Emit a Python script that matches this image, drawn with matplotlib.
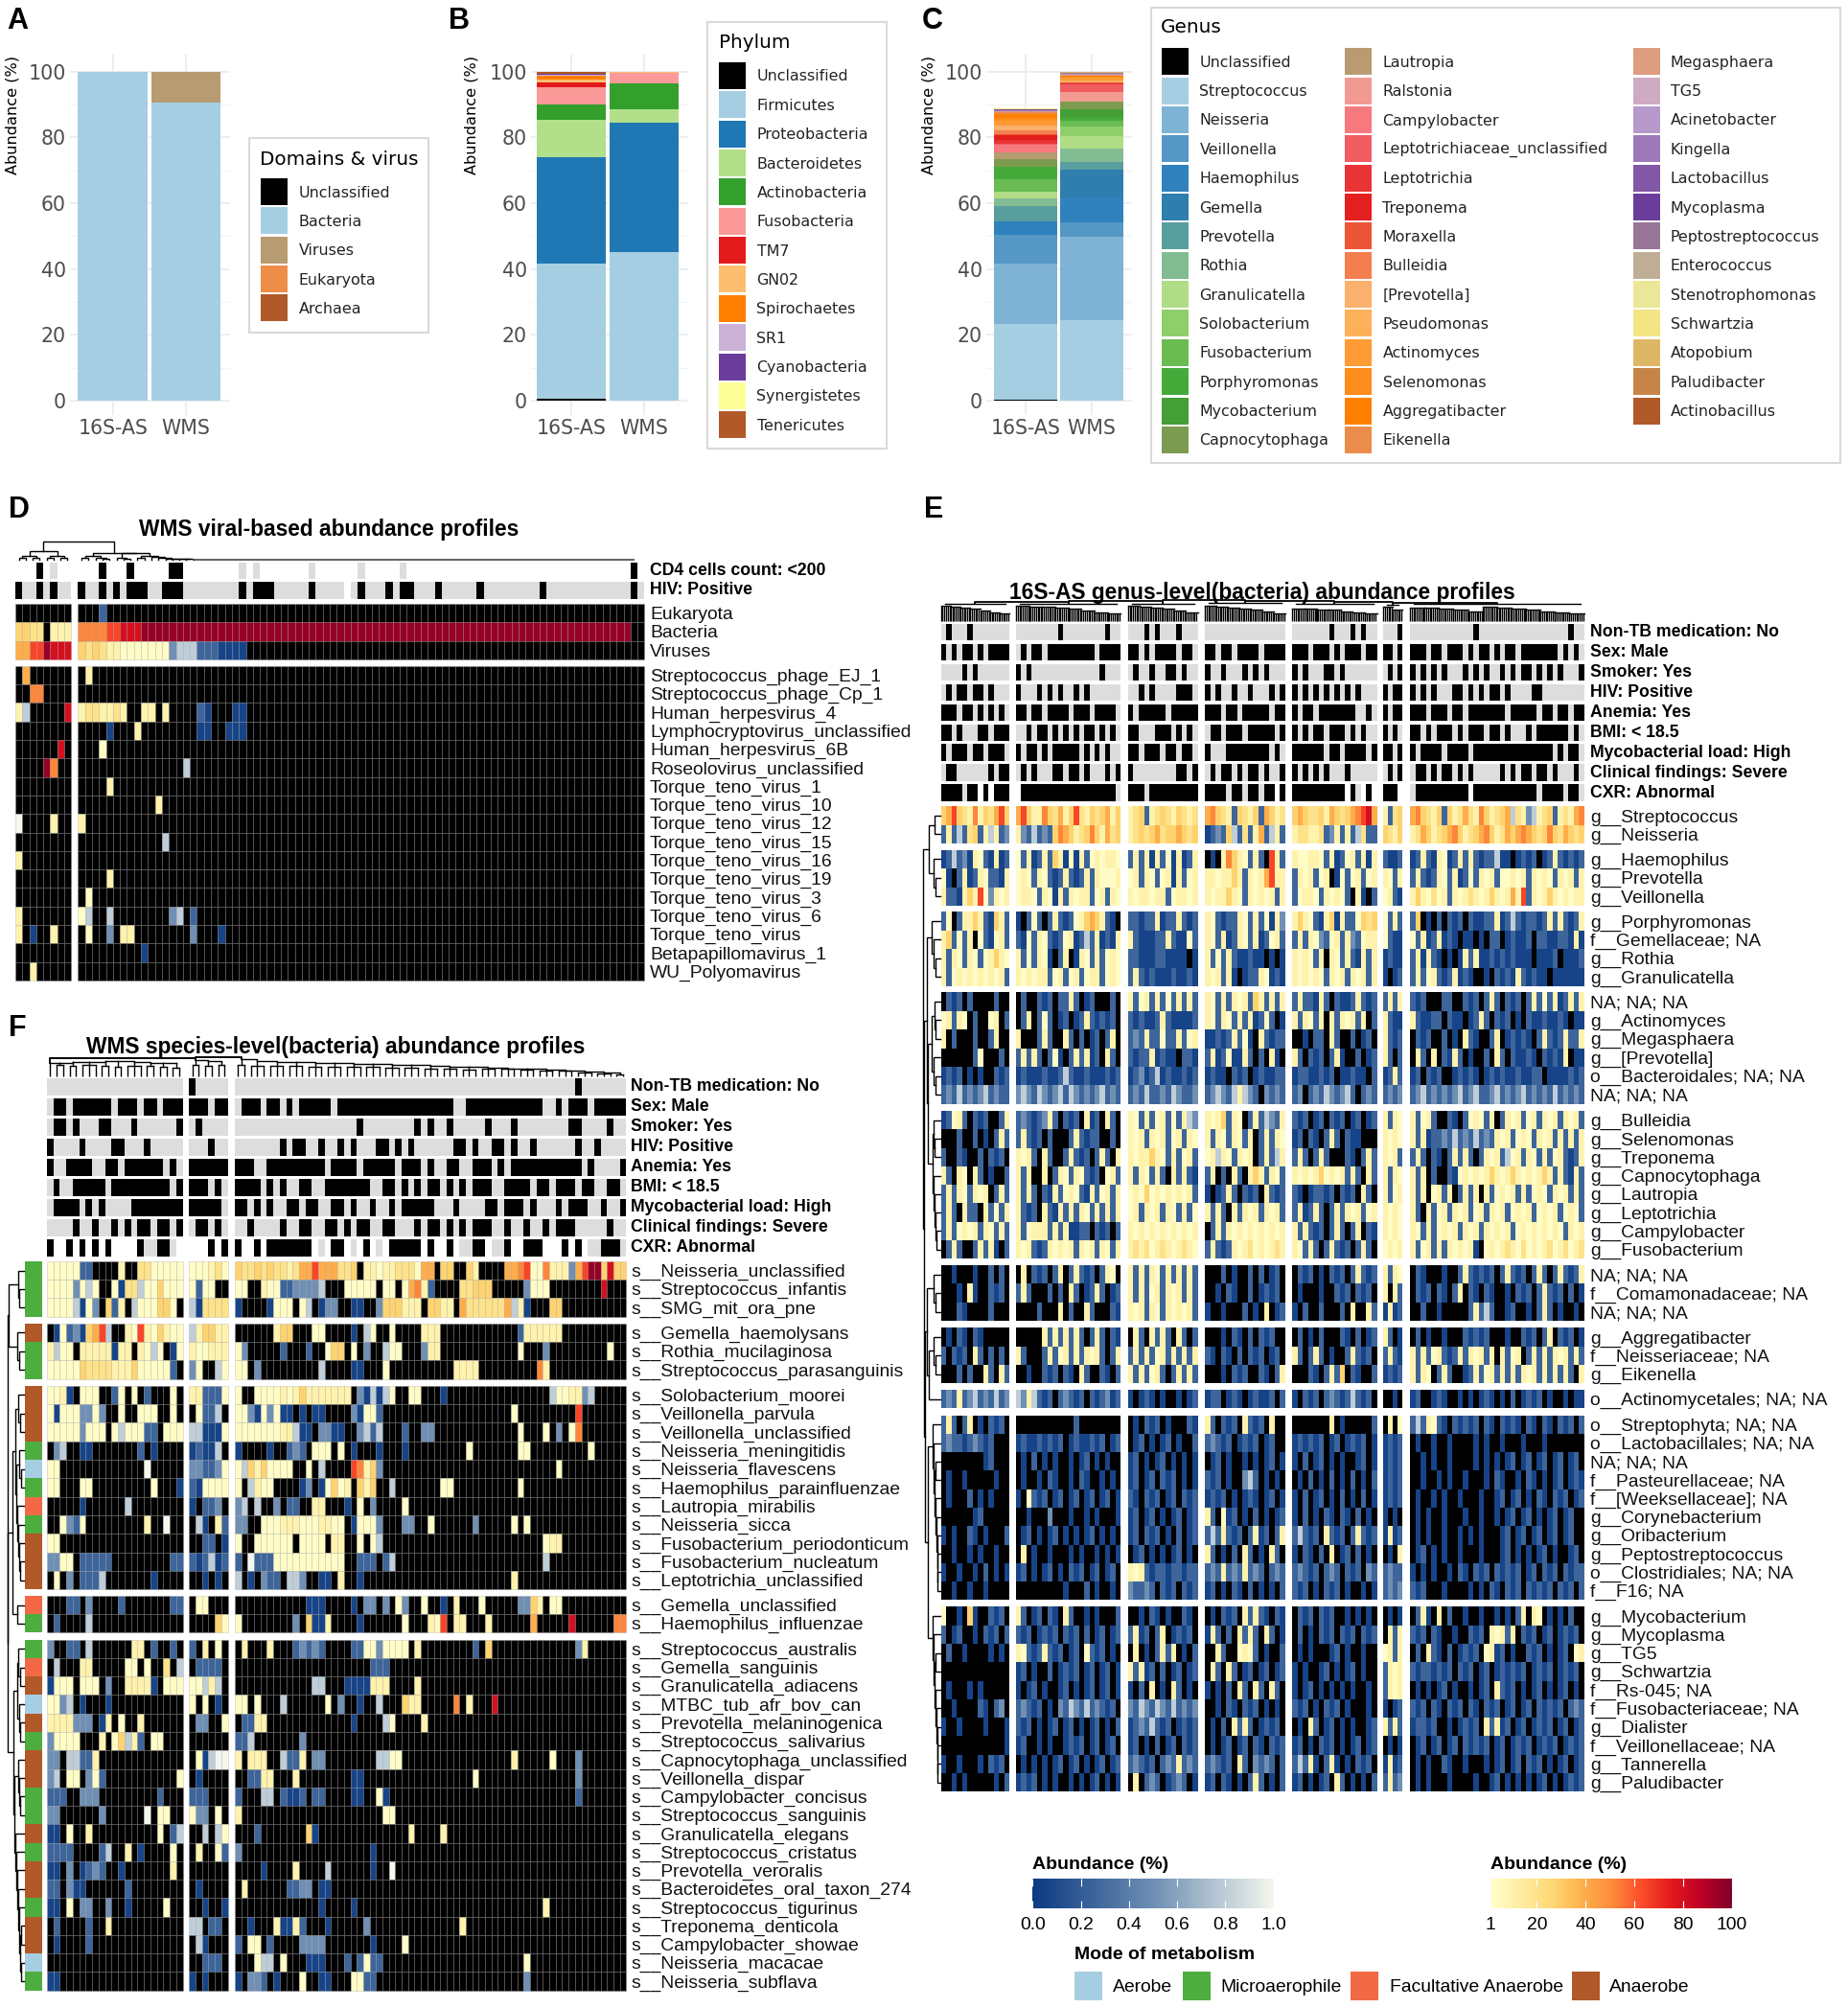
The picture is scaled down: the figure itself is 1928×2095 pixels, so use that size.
import re
import numpy as np
import matplotlib
matplotlib.use('Agg')
import matplotlib.pyplot as plt
from matplotlib.colors import LinearSegmentedColormap, ListedColormap
from matplotlib.patches import Rectangle

W, H = 1928, 2095
HEAT_FONT = 'Liberation Sans'
BAR_FONT = 'DejaVu Sans'

BAR_LABELS = ['16S-AS', 'WMS']

DOMAIN_NAMES = ['Unclassified', 'Bacteria', 'Viruses', 'Eukaryota', 'Archaea']
DOMAIN_COLORS = ['#000000', '#A6CEE3', '#B89B70', '#EE8D47', '#B15928']
DOMAIN_16S = [0, 100, 0, 0, 0]
DOMAIN_WMS = [0, 90.6, 9.4, 0, 0]

PHYLUM_NAMES = ['Unclassified', 'Firmicutes', 'Proteobacteria', 'Bacteroidetes', 'Actinobacteria', 'Fusobacteria', 'TM7',
	'GN02', 'Spirochaetes', 'SR1', 'Cyanobacteria', 'Synergistetes', 'Tenericutes']
PHYLUM_COLORS = ['#000000', '#A6CEE3', '#1F78B4', '#B2DF8A', '#33A02C', '#FB9A99', '#E31A1C',
	'#FDBF6F', '#FF7F00', '#CAB2D6', '#6A3D9A', '#FFFF99', '#B15928']
PHYLUM_16S = [0.5, 41.3, 32.2, 11.4, 4.5, 5.5, 1.3, 0.8, 1.2, 0.5, 0.1, 0.1, 0.6]
PHYLUM_WMS = [0, 45.2, 39.3, 4.2, 7.8, 3.2, 0, 0.3, 0, 0, 0, 0, 0]

GENUS_NAMES = ['Unclassified', 'Streptococcus', 'Neisseria', 'Veillonella', 'Haemophilus', 'Gemella', 'Prevotella',
	'Rothia', 'Granulicatella', 'Solobacterium', 'Fusobacterium', 'Porphyromonas', 'Mycobacterium', 'Capnocytophaga',
	'Lautropia', 'Ralstonia', 'Campylobacter', 'Leptotrichiaceae_unclassified', 'Leptotrichia', 'Treponema', 'Moraxella',
	'Bulleidia', '[Prevotella]', 'Pseudomonas', 'Actinomyces', 'Selenomonas', 'Aggregatibacter', 'Eikenella',
	'Megasphaera', 'TG5', 'Acinetobacter', 'Kingella', 'Lactobacillus', 'Mycoplasma', 'Peptostreptococcus',
	'Enterococcus', 'Stenotrophomonas', 'Schwartzia', 'Atopobium', 'Paludibacter', 'Actinobacillus']
GENUS_COLORS = ['#000000', '#A6CEE3', '#7FB3D5', '#5598C6', '#2F82BE', '#2E7EAE', '#599E9E',
	'#83BB92', '#B0DC86', '#90CE6B', '#6BBB53', '#44AB3B', '#449F37', '#7D9B50',
	'#B89B70', '#F29A92', '#F6797E', '#F05C60', '#E93436', '#E4201F', '#EC5535',
	'#F47F4E', '#FBB06B', '#FDB05A', '#FE9B34', '#FE8C1C', '#FF7F00', '#EA8D4A',
	'#DE9C80', '#CFAAC3', '#B59ACB', '#9E78B8', '#8258A6', '#6A3D9A', '#977597',
	'#BFAD96', '#ECE698', '#F3E484', '#DEB766', '#C68547', '#B15928']
GENUS_16S = [0.3, 22.9, 18.6, 8.6, 3.8, 0.2, 4.8, 2.2, 2.1, 0.1, 3.6, 3.8, 0.1, 2.2, 2.2, 0.1, 2.3, 0.1, 1.4, 1.4, 0.1,
	1.4, 1.2, 0.2, 1.3, 1.1, 0.9, 0.8, 0.1, 0.1, 0.05, 0.2, 0.2, 0.1, 0.05, 0.05, 0.05, 0.1, 0.05, 0.05, 0.05]
GENUS_WMS = [0, 24.6, 25.3, 4.4, 7.6, 8.3, 2.4, 3.9, 3.9, 2.9, 1.8, 0.8, 2.8, 2.1, 0.2, 2.7, 0.1, 2.5, 0.2, 0.1, 0.1,
	0.1, 0.3, 0.2, 1.0, 0.3, 0.2, 0.1, 0.2, 0.1, 0.1, 0.1, 0.05, 0.05, 0.05, 0.05, 0.1, 0.1, 0.05, 0.05, 0.02]

# heat cell levels: '.' is zero (black), a-e sit on the 0-1 blue scale, p-x on the 1-100 warm scale
BLUE_LEVELS = {'a': 0.06, 'b': 0.25, 'c': 0.5, 'd': 0.8, 'e': 1.0}
WARM_LEVELS = {'p': 3, 'q': 10, 'r': 20, 's': 28, 't': 40, 'u': 52, 'v': 65, 'w': 80, 'x': 95}
ANNOT_COLORS = {'k': '#000000', 'g': '#DDDDDD', 'w': '#FFFFFF'}

METABOLISM = ['Aerobe', 'Microaerophile', 'Facultative Anaerobe', 'Anaerobe']
METABOLISM_COLORS = ['#A6CEE3', '#4DAD3F', '#F16A45', '#B15928']

# panel D
D_COLS = [8, 81]
D_ANNOT_LABELS = ['CD4 cells count: <200', 'HIV: Positive']
D_ANNOT = ['3wkwg2w|3wk3wk5w2k8wgwg7wg6wg5wg32wkw',
	'k2gkgk2g|k2gkgkg3k2g3k8gkg3k5gk4gwgk3gkg2k3gk5gk8gk12gkg']
D_TOP_LABELS = ['Eukaryota', 'Bacteria', 'Viruses']
D_TOP = ['|3.b',
	'2s2r.3q|2u2u2v3w70x',
	'2t2vx3w|srsr2q2p5pcddd3b4a']
D_LABELS = ['Streptococcus_phage_EJ_1', 'Streptococcus_phage_Cp_1', 'Human_herpesvirus_4', 'Lymphocryptovirus_unclassified',
	'Human_herpesvirus_6B', 'Roseolovirus_unclassified', 'Torque_teno_virus_1', 'Torque_teno_virus_10', 'Torque_teno_virus_12',
	'Torque_teno_virus_15', 'Torque_teno_virus_16', 'Torque_teno_virus_19', 'Torque_teno_virus_3', 'Torque_teno_virus_6',
	'Torque_teno_virus', 'Betapapillomavirus_1', 'WU_Polyomavirus']
D_ROWS = ['.t|.q',
	'2.2u|',
	'qd5.w|qrrqqrq2.2q.q4.ba3.2a',
	'|4.a3.q8.2a2.3a',
	'6.w|3.p',
	'4.xu|15.d',
	'|4.q',
	'|11.q',
	'e4.q|q',
	'|12.d',
	'q|',
	'|4.q',
	'|.p',
	'q|pd2.d8.cd.b',
	'q.a2.q|.p2.c.2q8.c3.a',
	'|9.a',
	'2.q|']

# panel F
F_COLS = [21, 6, 61]
F_ANNOT_LABELS = ['Non-TB medication: No', 'Sex: Male', 'Smoker: Yes', 'HIV: Positive', 'Anemia: Yes', 'BMI: < 18.5',
	'Mycobacterial load: High', 'Clinical findings: Severe', 'CXR: Abnormal']
F_ANNOT = ['21g|k5g|53gk7g',
	'g2kg6kg3kg2kg3k|3kg2k|g3kg2kgkg5kg18k2g12k2gkg3kg5k',
	'g2kgk3g2k3gk6gk|gk4g|19gk8gkgk2gk5gk3gk8g2k4gk2g',
	'k4gk4g2k3gk5g|3gk2g|7gkg2k2gk2gkgk3g2kgkgk6g2kgk2g2kgk2gk6gk2gk4g',
	'k2g4k2g2kg6kgkg|6k|3k2g9kg4kg5kg3kgk2g2k2g3kgkg11kgk4gk',
	'gk2g5kg9kgk|3kgkg|4kgkgk2g2k2g7k2g2kgkgkg2kgkgkg3k2g4kg2kg3kg2k2g2kg',
	'g4kgkgk4g8k|5kg|2kgkgk2g2kg2k2g2kgk2gk2gkg5k3gk4g2kg3kgk3gkg3k2gk2gk',
	'4gk2gk2gkgkg2kg2kgk|g2kgkg|2gk4gk2g2k2g2kgkg2k2g2k3gkg2kgkgkg3k2gk2gk2gkg3k5gk2g',
	'k2wkwkwkwk4wk2g2kgw|3wkwk|k2wkw7kwgw2kwgwkwgw5kwk2wkw2g2kw2gk2w3k3wkwkw2g3kg']
F_LABELS = ['Neisseria_unclassified', 'Streptococcus_infantis', 'SMG_mit_ora_pne', 'Gemella_haemolysans', 'Rothia_mucilaginosa',
	'Streptococcus_parasanguinis', 'Solobacterium_moorei', 'Veillonella_parvula', 'Veillonella_unclassified',
	'Neisseria_meningitidis', 'Neisseria_flavescens', 'Haemophilus_parainfluenzae', 'Lautropia_mirabilis', 'Neisseria_sicca',
	'Fusobacterium_periodonticum', 'Fusobacterium_nucleatum', 'Leptotrichia_unclassified', 'Gemella_unclassified',
	'Haemophilus_influenzae', 'Streptococcus_australis', 'Gemella_sanguinis', 'Granulicatella_adiacens', 'MTBC_tub_afr_bov_can',
	'Prevotella_melaninogenica', 'Streptococcus_salivarius', 'Capnocytophaga_unclassified', 'Veillonella_dispar',
	'Campylobacter_concisus', 'Streptococcus_sanguinis', 'Granulicatella_elegans', 'Streptococcus_cristatus', 'Prevotella_veroralis',
	'Bacteroidetes_oral_taxon_274', 'Streptococcus_tigurinus', 'Treponema_denticola', 'Campylobacter_showae', 'Neisseria_macacae',
	'Neisseria_subflava']
F_SIDE = [1, 1, 1, 3, 1, 1, 3, 3, 3, 1, 0, 1, 2, 1, 3, 3, 3, 2, 1, 1, 2, 3, 0, 3, 1, 3, 3, 1, 1, 3, 1, 3, 3, 1, 3, 3, 0, 1]
F_ROWS = ['5p2b4.q2.2r5p|3pqrp|srrsrsrrqrttvtttrrs.qqpqqrrrptt.ss..sq4.ttuvppuqqqctvxxswss',
	'4pcpdp2.pa2rd2ps3p|pb2p2.|2p2.q2p2b4cd3.5p.2p.ptuqb4.2r3s5.c3p8.w3.',
	'4pdapc.sbq.d3p2sp|da4r|a4.a3p.pd.a2c2.2a2.c3s3q.2s2q.t6rtdqa3.2s10.',
	'.apbcastvd2.qpvqpsqpp|dq2s2q|6.q2s3.2p4.a.dp2.p4.3q12.b6q9.',
	'qd2p.5qa2q.qpdp.ap|q2p3q|pc5.b3.b2.p2s.p.c2.d2p3.c2q12.p3.c9.p2.',
	'5ps4r3qs5pb.|cp2.dp|2p.c9.d4.2a3.p10.4q9.uq13.',
	'2pqa.3p2.bp.p.b3.p.|2q3bp|p2.4pqpqs7q.cadadp2.2p3.a16.d2p2qcd6.',
	'pa3p2cpc2.p2.3p2.p.|.p2bd.|2pcapcp2a.a.2a4.ca2pb20.p9.v7.',
	'5pc3p.pd3p2b.3p|2d3ap|7p2qd2a.2c2a..cdbd3.b2.2c13.p3.p.c.pu8.',
	'.cd2.2a7.b.a4.|ab2ad.|a4.a2.bcb.3p.p.a3.a3.a9.p7.2p9.p5.',
	'2p13.e5.|2c2bcp|pdsqs4p2.p.d4.vuqsc27.p10.',
	'2p3.2p9.p3.a|ba4p|p.dq2p4.ac.apspq.sqs2.d7.2p10.p16.',
	'5.a6.d8.|a.2bc.|cd.d2.c.2b2.2q3.a.p.c4.p33.',
	'2.pcbp9.q2.e4.|.da.qb|2c2.3p3q3p2q2p.a3pc3.2c2.p6.c5.p.p15.',
	'2p19.|2.2b.a|p2.p5p.4p.2q2.p.pd25.p2q',
	'2c2p.5b9.2b|babdab|b.e3b3p8p2.3b.bd23.d',
	'.p.c.3bd7.a4.|2.a.a.|d.a.c2b.2dc2.2a.q2.a23.q',
	'3.2b.c4.b7.2b|.2p3.|11.3a4.a.2c.c.pc2.p2.a.q3.p5.2csq.2p',
	'.b4.d14.|4.sp|p8.c.s2aq4.a6.p3.qpv.2q3.q6.t5.w6.2u',
	'c2.2b.d6.2q.b2.b.|b.q.p.|.q3.q3.bcbcb4.2b2pc4p.q8.b.s13.cq',
	'.d3.2q5.2p.p2.r.d|.4b.|21.3b',
	'a3p.3p.c2.4qa.3p|2pdqd.|12.2d3.4a3q4.q',
	'2pcd.a3.a11.|p.p.a.|2p.p3.d6.p.c2.a2.d3.s2q5.u.q3.w',
	'4q3c.aq.p2.q6.|.2c2.p|.2b2q13.a4.dp4.q',
	'c4p3.q.psdqb.2p3.||2bd7.c',
	'2c.2d2bq13.|.pad2e|q.3q2.d2bq.2c8.2d2p17.q5.p3.c',
	'cd.2p.cpb11.p.|.a4.|2.2b2q3.q8.2a17.p15.c',
	'3b2.3c9.b3.|3b3.|b3.2d.baab.2b4.2a2.pa29.b',
	'2c6.c6.e.2p2.|p2c.p.|q22.2p',
	'2a.p2.q10.p.bd|2.d.dp|3.b7.sa14.q4.q',
	'4b4.bd2.q.a4.p.|.q2.pb|c20.a',
	'2a.c.abcb2.a7.q.||4.a4.q4.d6.a2.e',
	'2b.c2a6.b8.|.a4.|.q6.2b2c.2a',
	'2a.p.2c2.c2.a5.p2.|2.a2.a|13.a4.a29.q',
	'.b4.b2.q11.|2d.2b.|2.a3.q2aqb3.a5.c14.q',
	'.a4.b14.|.da3.|b.2p.b4.4c7.a4.p',
	'|2.3b.|3.p2d.p3.3a3.b.bp2b22.p',
	'2a19.|a.a3.|a.2cb.a3.p2.2a3.2p2b23.c']

# panel E, columns are read at a coarser step than the original strips
E_COLS = [13, 20, 13, 15, 16, 4, 33]
E_ANNOT_LABELS = F_ANNOT_LABELS
E_ANNOT = ['gk3gk7g|8gk8gk2g|3gkgk3gk3g|15g|7gk3gkgk2g|3gk|12gk17gk2g',
	'kgkgkkgkgkkkk|gkgkkgkkkkkkkkkgkkkk|kkgkgkkkkgkkg|kkgkkgkkkkgkkkk|kkkgkkkgkgkkkgkk|kkgk|kkkgkkgkkkgkgkkgkgkkgkkkkkkkgkgkg',
	'ggggkgkgggggg|kgkgggggggggggggkggg|gkggkggkkgkgg|kggkgggkgkgkggg|kgkgggkkgkgggggg|gkgk|kgkgkgkgggkgkgkggkgkgkkgkgkgkgggk',
	'gkgkkgkkgkggg|kgggkgkgkggkgkgggggg|ggkgkggggkkkg|kgkggkggkgggkgk|kgkgkgkgkgkgkggg|kgkk|kgkgkgggkkgkgkgkkgkggggkkgggggggg',
	'kkkgkkgkgkgkg|kkgkkgkkkkgkkkgkkkkg|kgkkkkkgkkkkk|kkkgkkgkkkkkgkk|kgkkgkkkkkkkggkg|kgkk|kkkgkkkgkkgkkkkkkkgkkkkkgkkgkkgkk',
	'kkgkgggkkgkkk|ggkgkkgkgkgkgkkgkgkg|kkgggkkkgkgkg|gkkgkkkgkkkkkgk|kgkgkkgkkkgkgkgg|kgkg|kkgkgkkkgkgkkkgkkgkgggkgkkkkkkgkg',
	'kgkkkgkkgkkkg|kgkkgkgkkkkkgkgkgkgg|kkgkkkgkkgkkg|kgggkkkkkkkkgkg|kkkkkkgkkgkkkkgk|kkgk|kgkkkkgkkkkgkkkkkkkkkkkkkkkgkgkkg',
	'gkkggggggkgkk|gkgkgggkkgkkgkgggkgk|kggggggggkkgk|gkgkkgkgkkgkggk|kgkgkgkgggkggggg|gkgk|gkkgkgkkgkgkgggggkgkgkkgkkgkgggkg',
	'kkkkgkkwkwkkk|wkkkkkkkkkkkkkkkkkkg|kkkgkkkkkkkkk|kkkkgkkgkkgkkwk|kkkkkkkkkkwkgwkw|kkkw|gkkkkkkkkkkwkkkkkkkkkkkkgkkkkgkkg']
E_LABELS = ['g__Streptococcus', 'g__Neisseria', 'g__Haemophilus', 'g__Prevotella', 'g__Veillonella', 'g__Porphyromonas',
	'f__Gemellaceae; NA', 'g__Rothia', 'g__Granulicatella', 'NA; NA; NA', 'g__Actinomyces', 'g__Megasphaera', 'g__[Prevotella]',
	'o__Bacteroidales; NA; NA', 'NA; NA; NA', 'g__Bulleidia', 'g__Selenomonas', 'g__Treponema', 'g__Capnocytophaga', 'g__Lautropia',
	'g__Leptotrichia', 'g__Campylobacter', 'g__Fusobacterium', 'NA; NA; NA', 'f__Comamonadaceae; NA', 'NA; NA; NA',
	'g__Aggregatibacter', 'f__Neisseriaceae; NA', 'g__Eikenella', 'o__Actinomycetales; NA; NA', 'o__Streptophyta; NA; NA',
	'o__Lactobacillales; NA; NA', 'NA; NA; NA', 'f__Pasteurellaceae; NA', 'f__[Weeksellaceae]; NA', 'g__Corynebacterium',
	'g__Oribacterium', 'g__Peptostreptococcus', 'o__Clostridiales; NA; NA', 'f__F16; NA', 'g__Mycobacterium', 'g__Mycoplasma',
	'g__TG5', 'g__Schwartzia', 'f__Rs-045; NA', 'f__Fusobacteriaceae; NA', 'g__Dialister', 'f__Veillonellaceae; NA',
	'g__Tannerella', 'g__Paludibacter']
E_ROWS = ['stvsrquqsrtvs|tvsqqusrtqsvrqsrstqs|qrsbqrsrqsrqr|tusrqbsrqsbtsqr|stsrrsqtsrstuvwt|qbrs|tusrqsbsqrtrqusqrstdrqcdqrsbqrq',
	'bqbdbrsbqdqbc|qcbdbcbsutsqrsusqtrs|qrsrstrsstsrs|abcbsdbrbqtbdqb|qrrqqrbcqbqbdrbb|srqs|qrtsqrstusqrstusqrtstutsrsusrtsrs',
	'abdbcaqpbaqab|pbqabqbsqapaqbpqpqqp|bqbqaqbpaqabq|.a.qusqpbqb.vqb|qppqqpbqabpqbqaq|baab|abqbaqpabqbqbabbdaa.abab.abqbabab',
	'pa.bqabqpbbaq|pqpbqpbabqbabqbqpp|pqbqpbpqaqbpq|qqpqqsqbqpqtvqq|bqpqbpq.apbpqbpq|qpbq|bqbabqpbqabpbqpqbppqpqbqpqpbqpqbq',
	'qbbaqsqvpcqpq|pqqpbqpaqbqpqqbpqbqp|qpqqpqqbpqqpq|qpqqsqpbqpqpqbq|bpqqpbqpqpb.qa.|pqba|qsqprpqbqpqrqpqsqpqtqvbqpqsqpqpqq',
	'bp.bqqsqbasqb|a.bpb.bqbabpqstsqb|bbabbqabbqbab|qpbabbqpbqbpaqc|qsqpbaqsaqbbpsrs|pbqb|bs.a.b.bab.baabbqabdbabbabqbqbabq',
	'qsbpbq.pbapqb|bapbqpbabpqabdbqabaq|qbaaabbqbaapb|qpbqabqpbqabpqb|bqbqpcbpqbqcbpqq|pbaa|pbqabqaba.aa.a.bb.abaab.bbaabbaqa',
	'qbqpbqpbpqsqp|qbpbqpa.bq.aqpbqbpqp|bbaaabbaaaa.a|qbpbqbaabaa.a.a|qpqpbq.qpbqbaqbq|abaa|bqaqba.a.aqbqaabababaaa.aaab.aaab',
	'qbpqpqpqpqpqb|qpqpqqbpqbpqbpqqbpqp|bqbabaaabaaba|qpqbqa.abbqpaba|qpqpqpbqpqbqpqbq|a.ab|bqbpqbabqaba..a.babaqbabaa.aaaaaa',
	'.bab.b....b..|.b..bab.bbqb.ab...b.|qbpqbqbpbqbqb|qpbqbqpqbsqbqbq|bqbbaqb.baabqbab|bqbq|bab...bb..bab.bqb.bab.bqbpbqabqbq',
	'pqbqp.b..pq.b|.bq.bpb.ab.abqbabab.|babaabqbaaaab|qpbqpbqbqabpb.a|qbqpbq.qbqpqbq.b|qbaa|qbaabb.baa.abqb.bab.a.baabaaba.aa',
	'q.b...b..bq..|q...bqb..qb.b.ab.bq.|bcbqbbpbbqbpq|aababqbpa.qbabb|..a.bb.qb..b.ab.|qbab|.bab..b.a.qba..bq.ababa.bqbabqbbq',
	'......bp...b.|bqbqb.bpa.bqbqab.qb.|babbqabaa.bba|bqabpaaqb.b.qa.|qb.bab.bqa..b.ab|qb.b|.qb.q.baqb.a..b.qb.baaba.babaq.aa',
	'abab.a.a..bab|abaaabaabdbaabaaabab|abcabdabaabab|abaa.bab.abaabb|abbaabab.aabaa.b|abqb|ab.bab..ababa.ababaabaabb.aaaabab',
	'bcbdbcbcdbcbb|cdcbdcbcdbdcbcbcdbcb|bcbdbbcbdcbbc|bcdcbdqdcb.cbcb|bc.bcbdcbcdb.bcb|bcbc|bcdbcbcbcdbcdbbcdbcbcdbcbcbdbcbcb',
	'abpqb.bab..bq|bcbabcqb.bab.qab.qb.|qpbqbpqbpbqdc|qpqsbqp.bqbdcbq|bab.ab.bab.ab.ab|qbqp|qbpqb..ba.bpqpbq.bqpqbpqbqpqbqpqb',
	'...b..b.a.bqb|bqbab.b...bqbabb..b.|qpqbqpqbpqbqp|qbqpbqpbq.bqbqp|ab.ba.bqb.baa...|qpqp|qbqabbcbdbcbdbcbqpqbpqpbqpqbqbqbq',
	'b..ba..b.bab.|qpqb.qb..bqbab.bqb.q|qpqqsqpbqbpqb|pqdqpbqpq.bqbdq|bqb.bqb...ba.bqb|qpqb|bqb.ba.bqbqb.bqpqbdpqbqpbqbpqbabq',
	'qb.qp.qb.a..b|qbq..q.bqpbqpbab.pqb|qbqpbqb.qbqba|bq.b.qb.qsqbqpb|qpqpqspqpqbqb.qb|qbqp|qbq.b..bapqpqpqsqpqsqpqpqsqbqba',
	'bqbqpbqpq.bqb|qbqb.baqbpqpbaqbpqbq|pqpspqpqpqpqb|a.abqb.bab.qbab|ba.abbab.bab.qb.|qbpq|qbq.pqbq.bqbq.qbpqpqbqbpqpbqpqbqb',
	'bqb.qbb.qbpbq|qbab.qbaqbqbqpbqbqbq|pqbqpqbqpbqbp|qbqb.qbqpqbqpqb|bqabqb.bqbqpqbpq|qpqp|qb.qbpqbqpqbpqbqpqbpqpqbpqpqbpqpb',
	'bqbpqpqbqpbqb|qbpqqqbqbqaabb.bab.b|qpqpqpqpqpqpq|.bqbqpqpqpqpqpq|qbqbab.bqb.bq.ba|qpqp|qpbqbpqpqbqpqbqpqpqbpqpqpqpqpbqpq',
	'.bqb..bqbqa.b|qpqbabqpqpqbqpqbqpbq|qrqrpqrqpqrqp|bqbabqpqrpqpqrq|qpbqb.bqbab.bqb.|pqpq|qbpqbqbqpqpqa.pqpqrqprpqpqrpqrpqr',
	'..a...a..b.b.|.q.bab.bq.bqbab.bqp.|qbqbqpbqbqbqb|...b.a..b.b.ab.|.bab.a.bab.bqbab|qbqp|.ba...a..bqbabab.bqbab.bqb.bqbabq',
	'...a.qa..bab.|bqb...b.b.qb.abqb.ab|qbqbpqbqpqbqb|..a.ba..b.abab.|.a...a..bab.bab.|q.qb|.bab.ba.bq.ba.ba..a.bab.bqbab.b.a',
	'...ba....b...|....b...q.b..qb...ba|qpqbqpbqpqpqb|a..a...b.a.q.ab|a.b..b...b.q..qb|aqab|..b..a.....bqbdb..ab..a.bqb.a..a.',
	'.a.ba.ba.....|.....qbqbqbqb.bqb.ba|.qb.qbqb.qb.b|...a.ba.b.bab..|.b.a.b...ba.b.ab|qb.a|.b.a..a...babab...a..bab.bq.bab.a',
	'b.bab.qb.b.b.|qb...bqbpqbqbqpqb.bq|bqbqbpqbqbqbq|ba.ba.b.bab.ab.|qb.bqb.a..bqbab.|bqba|qbqbpqbabqbqpqbq.qbpq.bqbqbqpqbqb',
	'...b.b..qb.qb|..a..bab.ba.qb..ba.b|qbqbpqb.bqbqb|...a.bab..ba.bq|...ba.bqbs.ba..b|abab|qbqp.bqb..abqbpqbqbqbqpqbqbqbqb.q',
	'bcbqbcdbcbdbc|dcqdbab.bcbab.babcab|a.aba.a..a.ab|abb.aba.abaab.b|a.bab.bcbabdbab.|..a.|ab..aba..a.a.aba.a.b.abab.a..a.a',
	'bqb.bq.a.bab.|...........b........|.a.bab.a...ba|qb.bab.qbab.q..|.......q.a.....b|.q.p|bdbqpba.babab.ba.baba.ba.ba.bab.b',
	'bcbbabcbab...|abaababab.abaabab.ab|.ab.a.ab.a..b|bcbab.abab.ab..|ababab.ab.abab.a|abab|.a..a..a....a.a..a...a...a.......',
	'........ab...|.a.b.a.a..a.ab.a.a..|ab.a.ab.a.a.a|.ab.a..a.a.ab.a|a.b.ab.a.a..ab.a|abab|..a.a..a....a.a.a.ab.ab.ab.ab.ab.',
	'.a..a.....a..|.a..a.ba..a.ba..a.a.|ab.ab.bab.a.a|bab.a..cdb.a.a.|.a.b.a.b.a.b.a.b|abab|..a..a.a..a...a.ba..a.ba.a.ab.aba',
	'.a...b.a.a...|a.pbab.ab.ab.ab.ab.a|ba.bab.ab.bab|abab.a.aba.ab.a|a.b.ab.a.b.a.b.a|abab|.a..a.a..a...a..ab.ab.a.ba.bab.ab',
	'......ab.....|..a...c...a..a.a...a|ab.ab.a.ab.ab|qb.pab.a.b.a.ab|a.b.a.ba.ba.b.a.|a.a.|.a.a..a...a..a..a.ab.ab.a.ab.ab.',
	'a.a..ba.a...b|.ab.a.ab.a.a.ab.a.a.|ab.bab.a.b.ab|bdbqbab.bqab.bq|bdbab.qbab.bqbab|aqab|.a.a..a..a.a.a...ab.ab.ab.ab.ab.',
	'..a..a.a..a..|.q.a..a...a.a..a.a.a|.ab.a.a.ab.a.|qb.a.b.qb.a.qb.|a.ba.b.q.ab.b.a.|.a.q|.ab.a.a..a...a...ab.a.a.ab.a..ab.',
	'a..a..a.b.a.a|ab.a.ab.a.bab.ab.ab.|qpqbabbabbabb|bcbqbcbqbcb.bcb|bcbab.bcb.bab.cb|bcbb|a.a.a..a.ba.bab.babab.ab.bab.babb',
	'..a..a..a....|.........a...b.a..a.|cbbcb.bab.bab|ab.a.ba.b.a.a.b|bab.a.bab.a..a.a|bcbc|bab...a....a.a.ba.bab.babab.bab.b',
	'p..a.sa..bab.|qb.ab.ba.qb..a.a...b|..a.ba.a..ba.|.a.bab.qbqba.ba|.bab.bab..a.a.a.|.a.a|.bqa.q.b..a..a..a.a.bq.qp.a.a.b.',
	'b.ab..a.bab.b|bab.abab.bab.b.ab.ab|bqab.bq.abab.|aqb.b.qbqb.qb.a|.b.a.bab.bab.bab|.qbq|bab.ba..a..bab.qpqbq.bab.ab.abab.',
	'.b..a....a.a.|qpbabqbab.ab.pbab.a.|.q.a.bqbq.a.b|..qb..pqpb.a..b|.a.a...ab.a..a..|pqbq|.b.qba.b.abab.pqab.a..bab.a.ab.pq',
	'.............|ab.a..b.abab.ab.ab.a|qbqab.b.ab.ab|.qb.qb.ab.ab.ab|a.a..ab.a.ab.a..|bqpq|babbabab.bab.ab.ababab.abab.abab.',
	'.a...a.a.....|a.ab.a..ab.a.ab.ab.a|a.b.q.a.qb.a.|a.a.b.qb.qb.qb.|a.ab.a.a.a.a..a.|bqpq|.a.a.ab.a..a.ab.qbab.a.ab.a.ab.a.',
	'..a....ba.bc.|bcbab.a.cbdcbdbcbab.|cbdcbdcbdbcbc|..a.ba.bab.a.a.|bab.a.bab.a...a.|a.ab|bab.ba.bab.ba.bab.ab.ab.babab.bcb',
	'a..a....a...a|bab.a.ab.ab.a.ab.a.b|abcbdbab.abab|.a.b.qbqb.abab.|.a.qb.ab.a.a..ab|qbqb|abbab..a.abab.qbqab.ab.abab.ab.ab',
	'............a|ab..a.a..abab.ab.ab.|ab.a.b.ab.bab|.a.ab.ab.ba.bab|ab.a.bab.a.ab.ab|.a.a|.ab.ab.ab.babab.ab.abab.abab.abab',
	'a..a...a.bab.|.a.a.a.ab.ab.a.ab.ab|bcbab.bcbqbcb|bcbab.qb.cbcb.b|bdbqa.bqa.a.bab.|aqab|.a.a..ba..a...a.ab.ab.bab.a.ab.ab',
	'..a.a.....a.b|abab.a.a..a.a.ab.a.a|.q.bcb.abcb.a|ab.ba.a.bqb.a.b|ab.a.ab.qb.a.a.b|bqbc|.a.a...a....a..ab.a.a.a.ab.a.abab']

# dendrograms as nested (height, child, child), leaves are column or row numbers
D_TOP_TREE = (19.3,
	(9, (4.5, (2, 0, 1), (2, 2, 3)), (4.5, (2, 4, 5), (2, 6, 7))),
	(7.7, (4, (2, 8, 9), (2.5, 10, (1.5, 11, 12))),
		(7, (2.5, 13, (1.5, 14, 15)), (4, (2, 16, 17), (3, 18, (2, 19, (1.5, 20, (1.2, 21, (1, 22, (0.9, 23, 24))))))))))
F_LEFT_TREE = (17, (16, (6, 0, (5, 1, 2)), (7, 3, (5, 4, 5))),
	(16.5, (12, (9, (6, 6, (4, 7, 8)), (8, (5, 9, (3, 10, 11)), (7, 12, (6, 13, (5, 14, (4, 15, 16)))))), (7, 17, 18)),
		(11, (7, (6, 19, (4, 20, 21)), (5, 22, (4, 23, 24))),
			(10, (6, 25, (5, 26, (4, 27, 28))), (9, 29, (8, 30, (7, 31, (6, 32, (5, 33, (4, (3, 34, 35), (3, 36, 37)))))))))))
E_LEFT_TREE = (18, (12, (6, 0, 1), (7, 2, (5, 3, 4))),
	(17, (14, (9, 5, (7, 6, (5, 7, 8))), (13, (9, (6, 9, (5, 10, 11)), (7, 12, (5, 13, 14))),
			(8, (7, 15, (6, 16, 17)), (7, 18, (6, 19, (5, 20, (4, 21, 22))))))),
		(16, (14, (7, 23, (5, 24, 25)), (12, (7, 26, (5, 27, 28)), 29)),
			(13, (8, 30, (7, 31, (6, (5, 32, 33), (5, 34, (4, 35, (3, 36, (3, 37, (3, 38, 39)))))))),
				(8, 40, (7, 41, (6, (5, 42, 43), (5, 44, (4, 45, (3.5, 46, (3, 47, (3, 48, 49))))))))))))

# top dendrogram brackets per group: leaves in the bracket, cap height, spine height
F_BRACKETS = [[(1, 11, 14), (2, 12, 14), (2, 11, 15), (3, 12, 15), (2, 11, 16), (2, 10, 16), (3, 11, 15), (2, 11, 14), (2, 10, 14), (2, 9, 14)],
	[(2, 12, 17), (2, 11, 16), (2, 12, 15)],
	[(2, 12, 18), (3, 11, 16), (3, 11, 15), (3, 11, 15), (3, 10, 14), (3, 10, 14), (3, 10, 13), (3, 10, 13), (3, 9, 12),
		(3, 9, 12), (3, 8, 11), (3, 8, 10), (3, 7, 10), (3, 8, 9), (3, 8, 8), (3, 7, 8), (3, 6, 7), (3, 6, 6), (3, 4, 5), (3, 3, 4), (2, 2, 3)]]
F_TRUNK_HEIGHTS = [19, 20]
E_CAPS = [[16, 15, 14, 13, 11, 9, 8], [16, 15, 15, 14, 13, 11, 9, 8], [16, 15, 14, 13, 11, 9],
	[16, 15, 14, 13, 12, 10, 8], [13, 13, 12, 12, 10, 9, 8], [15, 12], [14, 14, 13, 12, 10, 15, 14, 13, 12, 10, 9, 8]]
E_SPINES = [18, 18, 18, 19, 18, 17, 18]
E_TRUNK_HEIGHTS = [20, 21, 22, 21, 20, 19]

# pixel layout of each panel
D_X = [(16, 74), (81.4, 672.4)]
D_BLOCKS = [(629.9, 688, 3), (694.8, 1023, 17)]
F_X = [(49, 190.5), (197.2, 237.6), (245, 653.4)]
E_X = [(981.6, 1053.2), (1060, 1169.3), (1176.7, 1249.5), (1257, 1340.9), (1348.3, 1436.5), (1443.3, 1463), (1471, 1652.6)]
F_BLOCKS = [(1316, 1373.7, 3), (1380.7, 1438.7, 3), (1445.7, 1658.3, 11), (1665.3, 1703.3, 2), (1710.7, 2076.7, 19)]
E_BLOCKS = [(841.3, 880, 2), (886.7, 945, 3), (951.3, 1029, 4), (1035.3, 1151.7, 6), (1159, 1313.3, 8),
	(1320, 1378.3, 3), (1385.3, 1443.3, 3), (1450.3, 1469.3, 1), (1476.7, 1669.3, 10), (1676.3, 1869.3, 10)]

BLUE_CMAP = LinearSegmentedColormap.from_list('blue', ['#0B3A82', '#6E8FB4', '#F4F7EE'])
WARM_CMAP = LinearSegmentedColormap.from_list('warm', ['#FFFFCC', '#FFEDA0', '#FED976', '#FEB24C', '#FD8D3C', '#FC4E2A', '#E31A1C', '#BD0026', '#800026'])

LEVEL_CODES = '.' + ''.join(BLUE_LEVELS) + ''.join(WARM_LEVELS)
LEVEL_COLORS = ['#000000'] + [BLUE_CMAP(v) for v in BLUE_LEVELS.values()] + [WARM_CMAP((v - 1) / 99.0) for v in WARM_LEVELS.values()]
LABEL_SIZE = 13.9
BOLD_SIZE = 12.7
TITLE_SIZE = 16.4
HEADING_SIZE = 14
LABEL_DROP = 2
GRID_EDGE = (0.55, 0.55, 0.55, 0.35)


def expand(text, width, fill, cycle=False):
	out = ''.join(ch * int(n or 1) for n, ch in re.findall(r'(\d*)(\D)', text))
	if cycle and out:
		out = out * (width // len(out) + 1)
	return (out + fill * width)[:width]


def group_cells(rows, widths, fill, cycle=False):
	# one list of equal length strings per column group
	groups = [[] for w in widths]
	for row in rows:
		parts = row.split('|') + [''] * len(widths)
		for k, w in enumerate(widths):
			groups[k].append(expand(parts[k], w, fill, cycle))
	return groups


def draw_cells(ax, x0, x1, y0, y1, lines, codes, colors, edge=None):
	grid = np.array([[codes.index(c) for c in line] for line in lines])
	xe = np.linspace(x0, x1, grid.shape[1] + 1)
	ye = np.linspace(y0, y1, grid.shape[0] + 1)
	ax.pcolormesh(xe, ye, grid, cmap=ListedColormap(colors), vmin=0, vmax=len(colors) - 1,
		edgecolors=edge if edge else 'none', linewidth=0.5 if edge else 0, antialiased=bool(edge))


def draw_heat(ax, xs, blocks, rows, widths, edge, cycle):
	groups = group_cells(rows, widths, '.', cycle)
	start = 0
	for y0, y1, n in blocks:
		for k, (x0, x1) in enumerate(xs):
			draw_cells(ax, x0, x1, y0, y1, groups[k][start:start + n], LEVEL_CODES, LEVEL_COLORS, edge)
		start += n


def draw_annot(ax, xs, rows, labels, widths, top, pitch, height, label_x, cycle):
	groups = group_cells(rows, widths, 'g', cycle)
	codes = ''.join(ANNOT_COLORS)
	colors = list(ANNOT_COLORS.values())
	for r, label in enumerate(labels):
		y0 = top + r * pitch
		for k, (x0, x1) in enumerate(xs):
			draw_cells(ax, x0, x1, y0, y0 + height, [groups[k][r]], codes, colors)
		ax.text(label_x, y0 + height / 2, label, fontsize=BOLD_SIZE, fontweight='bold', family=HEAT_FONT, va='center')


def column_centers(xs, widths):
	centers = []
	for (x0, x1), n in zip(xs, widths):
		step = (x1 - x0) / n
		centers.extend(x0 + step * (i + 0.5) for i in range(n))
	return centers


def row_centers(blocks):
	centers = []
	for y0, y1, n in blocks:
		step = (y1 - y0) / n
		centers.extend(y0 + step * (i + 0.5) for i in range(n))
	return centers


def draw_tree(ax, node, pos, base, vertical, lw=1.0):
	if not isinstance(node, tuple):
		return pos[node], 0
	h, left, right = node
	p0, h0 = draw_tree(ax, left, pos, base, vertical, lw)
	p1, h1 = draw_tree(ax, right, pos, base, vertical, lw)
	if vertical:
		ax.plot([p0, p0, p1, p1], [base - h0, base - h, base - h, base - h1], color='black', lw=lw, solid_joinstyle='miter')
	else:
		ax.plot([base - h0, base - h, base - h, base - h1], [p0, p0, p1, p1], color='black', lw=lw, solid_joinstyle='miter')
	return (p0 + p1) / 2.0, h


def draw_brackets(ax, groups, centers, base, trunks, lw=1.0):
	col = 0
	tops = []
	for blocks in groups:
		stems = []
		for n, cap, spine in blocks:
			xs = centers[col:col + n]
			col += n
			ax.vlines(xs, base - cap, base, color='black', lw=lw)
			ax.plot([xs[0], xs[-1]], [base - cap, base - cap], color='black', lw=lw)
			mid = (xs[0] + xs[-1]) / 2.0
			ax.plot([mid, mid], [base - cap, base - spine], color='black', lw=lw)
			stems.append((mid, spine))
		for (x0, s0), (x1, s1) in zip(stems[:-1], stems[1:]):
			ax.plot([x0, x1, x1], [base - s0, base - s0, base - s1], color='black', lw=lw)
		tops.append(stems[0])
	for k in range(len(tops) - 1):
		h = trunks[k]
		ax.plot([tops[k][0], tops[k][0], tops[k + 1][0], tops[k + 1][0]],
			[base - tops[k][1], base - h, base - h, base - tops[k + 1][1]], color='black', lw=lw + 0.4)


def draw_mass_dendro(ax, xs, caps, spines, trunks, base):
	tops = []
	for (x0, x1), group_caps, spine in zip(xs, caps, spines):
		edges = np.linspace(x0, x1, len(group_caps) + 1)
		for left, right, cap in zip(edges[:-1], edges[1:], group_caps):
			ax.vlines(np.arange(left, right, 1.8), base - cap, base, color='black', lw=1.0)
			ax.plot([left, right], [base - cap, base - cap], color='black', lw=1.0)
		ax.plot([x0 + 4, x1 - 4], [base - spine, base - spine], color='black', lw=1.0)
		tops.append(((x0 + x1) / 2.0, spine))
	for k in range(len(tops) - 1):
		x0, s0 = tops[k]
		x1, s1 = tops[k + 1]
		ax.plot([x0, x0, x1, x1], [base - s0, base - trunks[k], base - trunks[k], base - s1], color='black', lw=1.3)


def draw_stack(rect, xlim, first, second, colors):
	x0, y0, x1, y1 = rect
	ax = fig.add_axes([x0 / W, 1 - y1 / H, (x1 - x0) / W, (y1 - y0) / H])
	for pos, values in enumerate([first, second]):
		bottom = 0
		for value, color in zip(values, colors):
			if value > 0:
				ax.bar(pos, value, width=0.95, bottom=bottom, color=color, linewidth=0)
			bottom += value
	ax.set_xlim(*xlim)
	ax.set_ylim(-4.4, 105.2)
	ax.set_xticks([0, 1])
	ax.set_xticklabels(BAR_LABELS, family=BAR_FONT)
	ax.set_yticks([0, 20, 40, 60, 80, 100])
	ax.set_yticks([10, 30, 50, 70, 90], minor=True)
	ax.tick_params(axis='both', which='both', length=0, labelsize=14.8, labelcolor='#4D4D4D')
	ax.tick_params(axis='x', pad=3)
	ax.tick_params(axis='y', pad=3)
	ax.grid(True, which='major', color='#EBEBEB', lw=1.2)
	ax.grid(True, which='minor', axis='y', color='#F3F3F3', lw=0.8)
	ax.set_axisbelow(True)
	for side in ax.spines.values():
		side.set_visible(False)


def draw_legend(ax, box, title, title_xy, names, colors, columns):
	x0, y0, x1, y1 = box
	ax.add_patch(Rectangle((x0, y0), x1 - x0, y1 - y0, facecolor='white', edgecolor='#D9D9D9', lw=1.5))
	ax.text(title_xy[0], title_xy[1], title, fontsize=14.4, va='center', family=BAR_FONT, color='black')
	start = 0
	for swatch_x, first_y, count in columns:
		for i in range(count):
			yc = first_y + i * 30.35
			ax.add_patch(Rectangle((swatch_x, yc - 14), 28, 28, facecolor=colors[start + i], edgecolor='none'))
			ax.text(swatch_x + 39.5, yc + 1, names[start + i], fontsize=11.4, va='center', family=BAR_FONT, color='#222222')
		start += count


def colorbar(rect, cmap, lims, ticks, labels):
	x0, y0, x1, y1 = rect
	ax = fig.add_axes([x0 / W, 1 - y1 / H, (x1 - x0) / W, (y1 - y0) / H])
	ax.imshow(np.linspace(0, 1, 256)[None, :], cmap=cmap, aspect='auto', extent=(lims[0], lims[1], 0, 1))
	ax.set_yticks([])
	ax.set_xticks(ticks)
	ax.set_xticklabels(labels, fontsize=LABEL_SIZE, family=HEAT_FONT)
	ax.tick_params(axis='x', direction='in', color='white', length=6, width=0.8, top=True, pad=7)
	for side in ax.spines.values():
		side.set_visible(False)


def row_labels(ax, x, labels, ys, prefix=''):
	for label, y in zip(labels, ys):
		ax.text(x, y + LABEL_DROP, prefix + label, fontsize=LABEL_SIZE, family=HEAT_FONT, va='center', color='#111111')


def main():
	global fig
	fig = plt.figure(figsize=(W / 100.0, H / 100.0), dpi=100, facecolor='white')

	draw_stack((73, 57, 240, 433), (-0.584, 1.6), DOMAIN_16S, DOMAIN_WMS, DOMAIN_COLORS)
	draw_stack((554, 57, 718, 433), (-0.55, 1.6), PHYLUM_16S, PHYLUM_WMS, PHYLUM_COLORS)
	draw_stack((1029, 57, 1180.8, 433), (-0.59, 1.604), GENUS_16S, GENUS_WMS, GENUS_COLORS)

	ax = fig.add_axes([0, 0, 1, 1], zorder=5)
	ax.patch.set_alpha(0)
	ax.axis('off')

	for x in [13.5, 492, 969]:
		ax.text(x, 120, 'Abundance (%)', rotation=90, fontsize=11.6, ha='center', va='center', family=BAR_FONT, color='black')
	for letter, x, y in [('A', 7, 22), ('B', 468, 22), ('C', 962, 22), ('D', 9, 532), ('E', 964, 532), ('F', 9, 1073)]:
		ax.text(x, y, letter, fontsize=22, fontweight='bold', family=HEAT_FONT, va='center')

	draw_legend(ax, (260, 144, 447, 347), 'Domains & virus', (271, 166), DOMAIN_NAMES, DOMAIN_COLORS, [(272, 200, 5)])
	draw_legend(ax, (738, 23, 925, 468), 'Phylum', (750, 45), PHYLUM_NAMES, PHYLUM_COLORS, [(750, 79, 13)])
	draw_legend(ax, (1200.8, 8, 1920, 483), 'Genus', (1211, 28), GENUS_NAMES, GENUS_COLORS,
		[(1212, 64.3, 14), (1403, 64.3, 14), (1703.5, 64.3, 13)])

	# panel D
	ax.text(343, 553, 'WMS viral-based abundance profiles', fontsize=TITLE_SIZE, fontweight='bold', family=HEAT_FONT, ha='center', va='center')
	d_centers = column_centers(D_X, D_COLS)
	draw_tree(ax, D_TOP_TREE, d_centers, 584.2, True)
	ax.plot([d_centers[24], d_centers[87]], [584.2, 584.2], color='#555555', lw=1.3)
	draw_annot(ax, D_X, D_ANNOT, D_ANNOT_LABELS, D_COLS, 586.6, 20.6, 17.6, 678, False)
	draw_heat(ax, D_X, D_BLOCKS, D_TOP + D_ROWS, D_COLS, GRID_EDGE, False)
	row_labels(ax, 678, D_TOP_LABELS + D_LABELS, row_centers(D_BLOCKS))

	# panel F
	ax.text(350, 1092, 'WMS species-level(bacteria) abundance profiles', fontsize=TITLE_SIZE, fontweight='bold', family=HEAT_FONT, ha='center', va='center')
	f_centers = column_centers(F_X, F_COLS)
	draw_brackets(ax, F_BRACKETS, f_centers, 1123, F_TRUNK_HEIGHTS)
	draw_annot(ax, F_X, F_ANNOT, F_ANNOT_LABELS, F_COLS, 1125, 21, 17.5, 658, False)
	draw_heat(ax, F_X, F_BLOCKS, F_ROWS, F_COLS, GRID_EDGE, False)
	f_rows = row_centers(F_BLOCKS)
	row_labels(ax, 658, F_LABELS, f_rows, 's__')
	start = 0
	for y0, y1, n in F_BLOCKS:
		side = ['abcd'[v] for v in F_SIDE[start:start + n]]
		draw_cells(ax, 26.3, 44, y0, y1, side, 'abcd', METABOLISM_COLORS)
		start += n
	draw_tree(ax, F_LEFT_TREE, f_rows, 24.5, False)

	# panel E
	ax.text(1317, 618, '16S-AS genus-level(bacteria) abundance profiles', fontsize=TITLE_SIZE, fontweight='bold', family=HEAT_FONT, ha='center', va='center', zorder=6)
	draw_mass_dendro(ax, E_X, E_CAPS, E_SPINES, E_TRUNK_HEIGHTS, 648)
	draw_annot(ax, E_X, E_ANNOT, E_ANNOT_LABELS, E_COLS, 650.7, 20.96, 17.3, 1658.8, True)
	draw_heat(ax, E_X, E_BLOCKS, E_ROWS, E_COLS, None, True)
	e_rows = row_centers(E_BLOCKS)
	row_labels(ax, 1658.8, E_LABELS, e_rows)
	draw_tree(ax, E_LEFT_TREE, e_rows, 981, False)

	# bottom legends
	ax.text(1077, 1945, 'Abundance (%)', fontsize=HEADING_SIZE, fontweight='bold', family=HEAT_FONT, va='center')
	ax.text(1555, 1945, 'Abundance (%)', fontsize=HEADING_SIZE, fontweight='bold', family=HEAT_FONT, va='center')
	ax.text(1121, 2040, 'Mode of metabolism', fontsize=HEADING_SIZE, fontweight='bold', family=HEAT_FONT, va='center')
	for name, color, sx, tx in zip(METABOLISM, METABOLISM_COLORS, [1121, 1233.5, 1409.4, 1639.6], [1161, 1273.6, 1449.5, 1679]):
		ax.add_patch(Rectangle((sx, 2057), 29, 30, facecolor=color, edgecolor='none'))
		ax.text(tx, 2074, name, fontsize=LABEL_SIZE, family=HEAT_FONT, va='center')

	ax.set_xlim(0, W)
	ax.set_ylim(H, 0)

	colorbar((1077.3, 1960, 1328.5, 1990.7), BLUE_CMAP, (0, 1), [0, 0.2, 0.4, 0.6, 0.8, 1.0], ['0.0', '0.2', '0.4', '0.6', '0.8', '1.0'])
	colorbar((1555, 1960, 1807, 1990.7), WARM_CMAP, (1, 100), [1, 20, 40, 60, 80, 100], ['1', '20', '40', '60', '80', '100'])

	fig.savefig('out.png', dpi=100, facecolor='white')


if __name__ == '__main__':
	main()
